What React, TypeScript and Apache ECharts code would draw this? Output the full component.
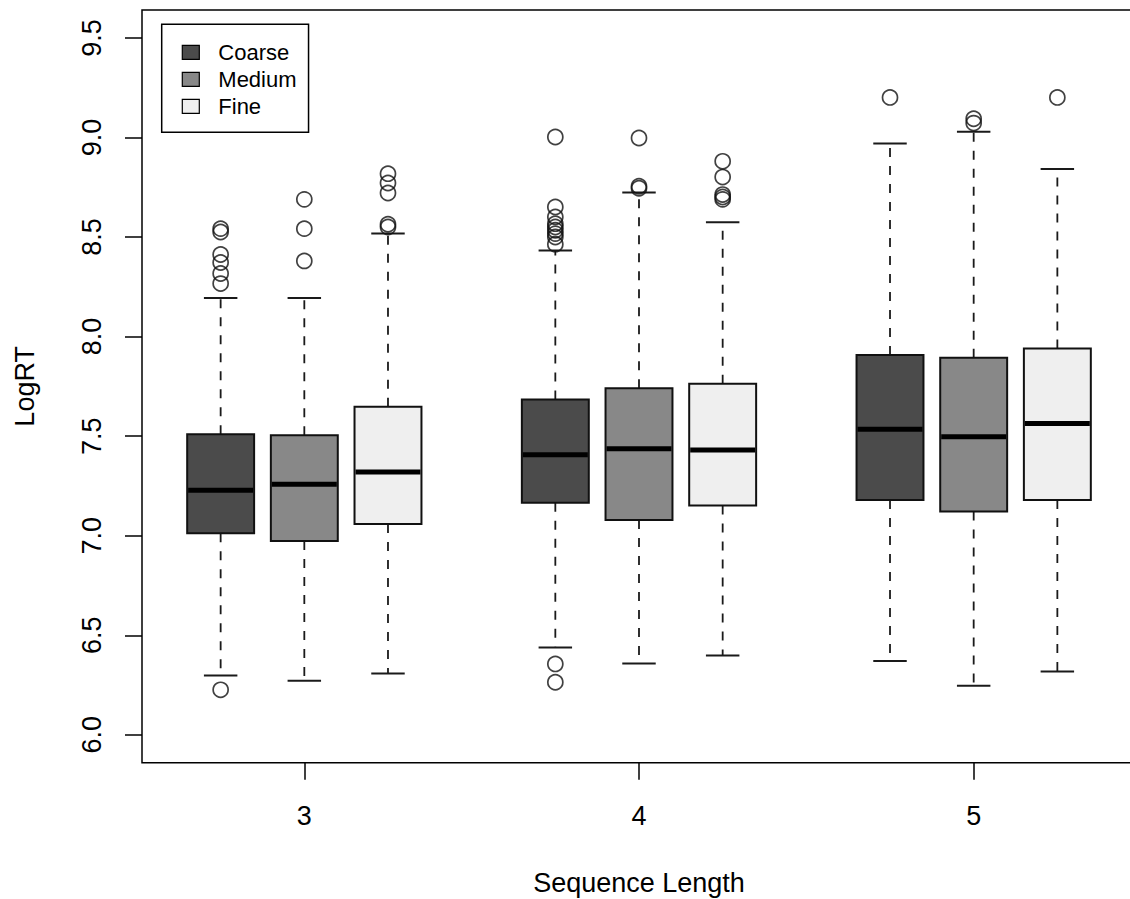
import React, { useEffect, useRef } from 'react';
import * as echarts from 'echarts';

const sequenceLengths = ['3', '4', '5'];
const resolutions = ['Coarse', 'Medium', 'Fine'];
const fillColors = ['#4b4b4b', '#888888', '#efefef'];
const yTicks = [6.0, 6.5, 7.0, 7.5, 8.0, 8.5, 9.0, 9.5];

// [lower whisker, Q1, median, Q3, upper whisker] for sequence lengths 3, 4, 5
const coarseStats = [
  [6.298, 7.012, 7.228, 7.510, 8.194],
  [6.438, 7.166, 7.406, 7.684, 8.432],
  [6.371, 7.179, 7.535, 7.908, 8.969],
];
const mediumStats = [
  [6.271, 6.973, 7.258, 7.504, 8.194],
  [6.358, 7.079, 7.437, 7.741, 8.723],
  [6.246, 7.121, 7.497, 7.893, 9.029],
];
const fineStats = [
  [6.308, 7.059, 7.320, 7.647, 8.517],
  [6.398, 7.152, 7.430, 7.763, 8.574],
  [6.318, 7.179, 7.564, 7.940, 8.842],
];

const coarseOutliers = [
  [8.542, 8.525, 8.412, 8.372, 8.317, 8.266, 6.226],
  [9.002, 8.651, 8.601, 8.567, 8.550, 8.534, 8.517, 8.500, 8.464, 6.356, 6.264],
  [9.201],
];
const mediumOutliers = [
  [8.689, 8.542, 8.380],
  [8.997, 8.755, 8.745],
  [9.094, 9.072],
];
const fineOutliers = [
  [8.818, 8.771, 8.721, 8.564, 8.550],
  [8.880, 8.801, 8.713, 8.701, 8.689],
  [9.201],
];

const allStats = [coarseStats, mediumStats, fineStats];
const allOutliers = [coarseOutliers, mediumOutliers, fineOutliers];

const FONT = 'Liberation Sans, Arial, Helvetica, sans-serif';

const posOf = (g: number, r: number) => g * 4 + r + 1;

export default function App() {
  const ref = useRef<HTMLDivElement>(null);

  useEffect(() => {
    if (!ref.current) return;
    const chart = echarts.init(ref.current, null, { renderer: 'svg' });

    const renderBox = (params: any, api: any) => {
      const x = api.value(0);
      const lo = api.coord([x, api.value(1)]);
      const q1 = api.coord([x, api.value(2)]);
      const med = api.coord([x, api.value(3)]);
      const q3 = api.coord([x, api.value(4)]);
      const hi = api.coord([x, api.value(5)]);
      const w = api.size([0.8, 0])[0];
      const cx = lo[0];
      const half = w / 2;
      const capHalf = w / 4;
      const fill = api.visual('color');
      const dashStyle = { stroke: '#1a1a1a', lineWidth: 1.8, lineDash: [9, 9], fill: null };
      const solid = { stroke: '#1a1a1a', lineWidth: 2, fill: null };
      return {
        type: 'group',
        children: [
          { type: 'line', shape: { x1: cx, y1: q3[1], x2: cx, y2: hi[1] }, style: dashStyle },
          { type: 'line', shape: { x1: cx, y1: q1[1], x2: cx, y2: lo[1] }, style: dashStyle },
          { type: 'line', shape: { x1: cx - capHalf, y1: hi[1], x2: cx + capHalf, y2: hi[1] }, style: solid },
          { type: 'line', shape: { x1: cx - capHalf, y1: lo[1], x2: cx + capHalf, y2: lo[1] }, style: solid },
          {
            type: 'rect',
            shape: { x: cx - half, y: q3[1], width: w, height: q1[1] - q3[1] },
            style: { fill, stroke: '#111', lineWidth: 2 },
          },
          {
            type: 'line',
            shape: { x1: cx - half + 1, y1: med[1], x2: cx + half - 1, y2: med[1] },
            style: { stroke: '#000', lineWidth: 5, fill: null },
          },
        ],
      };
    };

    const boxSeries = resolutions.map((name, r) => ({
      name,
      type: 'custom',
      renderItem: renderBox,
      itemStyle: { color: fillColors[r] },
      data: allStats[r].map((s, g) => [posOf(g, r), ...s]),
      encode: { x: 0, y: [1, 2, 3, 4, 5] },
      z: 3,
    }));

    const outlierData: number[][] = [];
    allOutliers.forEach((perRes, r) =>
      perRes.forEach((vals, g) => vals.forEach((v) => outlierData.push([posOf(g, r), v])))
    );

    chart.setOption({
      animation: false,
      backgroundColor: '#fff',
      grid: {
        left: 142,
        top: 10,
        width: 994,
        height: 752.7,
        show: true,
        borderColor: '#000',
        borderWidth: 1.5,
        backgroundColor: 'transparent',
        containLabel: false,
        outerBoundsMode: 'none',
      },
      legend: {
        data: resolutions,
        orient: 'vertical',
        left: 161.7,
        top: 24.3,
        icon: 'rect',
        itemWidth: 17,
        itemHeight: 14,
        itemGap: 5,
        padding: [17, 12, 15, 20],
        borderColor: '#000',
        borderWidth: 1.5,
        backgroundColor: '#fff',
        itemStyle: { borderColor: '#000', borderWidth: 1.2 },
        textStyle: { fontSize: 22, fontFamily: FONT, color: '#000', lineHeight: 22, padding: [0, 0, 0, 14] },
        selectedMode: false,
      },
      xAxis: {
        type: 'value',
        min: 0.06,
        max: 11.94,
        axisLine: { show: false },
        splitLine: { show: false },
        axisTick: { show: true, length: 17, customValues: [2, 6, 10], lineStyle: { color: '#000', width: 1.5 } },
        axisLabel: {
          customValues: [2, 6, 10],
          formatter: (v: number) => sequenceLengths[Math.round((v - 2) / 4)] ?? '',
          fontSize: 27,
          fontFamily: FONT,
          color: '#000',
          margin: 40,
        },
        name: 'Sequence Length',
        nameLocation: 'middle',
        nameGap: 107,
        nameTextStyle: { fontSize: 27, fontFamily: FONT, color: '#000' },
      },
      yAxis: {
        type: 'value',
        min: 5.86,
        max: 9.64,
        axisLine: { show: false },
        splitLine: { show: false },
        axisTick: { show: true, length: 17, customValues: yTicks, lineStyle: { color: '#000', width: 1.5 } },
        axisLabel: {
          customValues: yTicks,
          formatter: (v: number) => v.toFixed(1),
          rotate: 90,
          fontSize: 27,
          fontFamily: FONT,
          color: '#000',
          margin: 37,
        },
        name: 'LogRT',
        nameLocation: 'middle',
        nameGap: 104,
        nameRotate: 90,
        nameTextStyle: { fontSize: 27, fontFamily: FONT, color: '#000' },
      },
      series: [
        ...boxSeries,
        {
          name: 'outliers',
          type: 'scatter',
          symbol: 'circle',
          symbolSize: 15,
          itemStyle: { color: 'rgba(0,0,0,0)', borderColor: '#111', borderWidth: 1.7 },
          data: outlierData,
          z: 4,
        },
      ],
    });

    return () => chart.dispose();
  }, []);

  return (
    <div
      ref={ref}
      style={{ position: 'absolute', left: 0, top: 0, width: 1130, height: 899 }}
    />
  );
}
